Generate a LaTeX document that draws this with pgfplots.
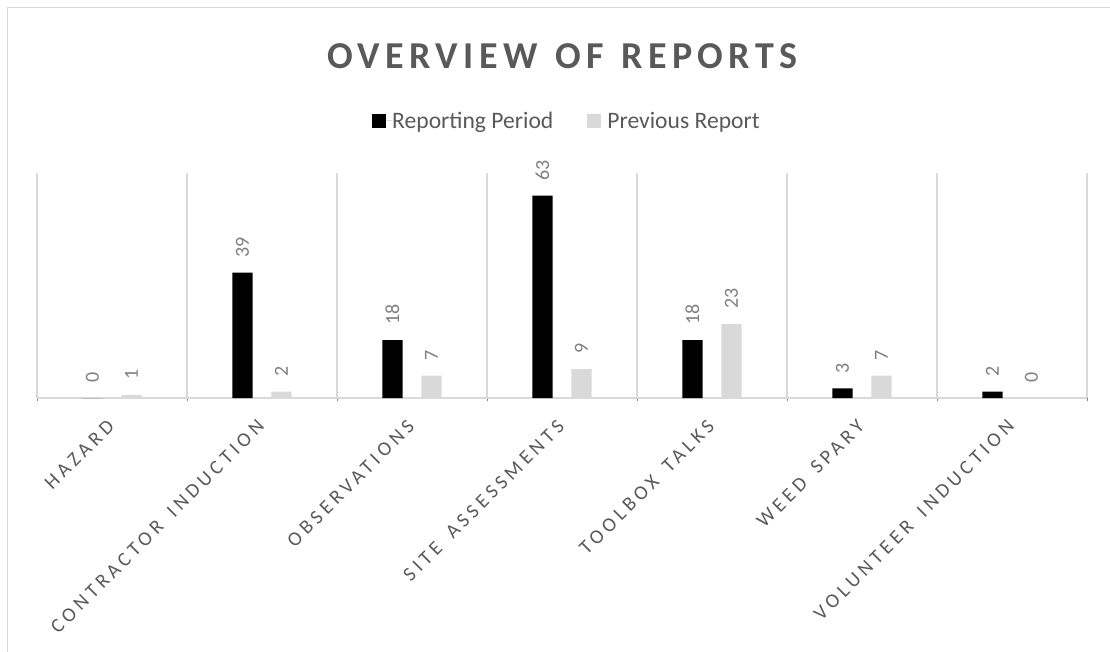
\documentclass[border=0pt]{standalone}
\usepackage{pgfplots}
\pgfplotsset{compat=1.18}
\usepackage{fontspec}
\setmainfont{Carlito}
\newfontfamily\titlefont[LetterSpace=14]{Carlito}
\newfontfamily\tickfont[LetterSpace=21]{Carlito}
\definecolor{txtgray}{HTML}{595959}
\definecolor{lblgray}{HTML}{7F7F7F}
\definecolor{bargray}{HTML}{D9D9D9}
\definecolor{gridgray}{HTML}{D9D9D9}
\newcommand{\ws}{\hspace{5pt}}
\begin{document}
\begin{tikzpicture}[x=1pt,y=1pt]
\useasboundingbox (0,0) rectangle (1110,651);
\draw[gridgray, line width=1.5pt] (7.5,-20) -- (7.5,643.5) -- (1120,643.5);
\node[anchor=base, text=txtgray, inner sep=0pt, font=\titlefont\fontsize{38}{46}\selectfont\bfseries] at (562.4,582.7) {OVERVIEW\hspace{4pt} OF\hspace{4pt} REPORTS};
\begin{axis}[
  at={(37pt,253pt)}, anchor=south west,
  width=1050pt, height=225pt, scale only axis,
  ymin=0, ymax=70, xmin=-0.5, xmax=6.5,
  ybar=18.7pt, bar width=20.3pt,
  axis y line=none, axis x line*=bottom,
  x axis line style={gridgray, line width=1.3pt, -},
  major tick length=0pt,
  xtick={0,...,6},
  xticklabels={HAZARD, CONTRACTOR\ws{} INDUCTION, OBSERVATIONS, SITE\ws{} ASSESSMENTS, TOOLBOX\ws{} TALKS, WEED\ws{} SPARY, VOLUNTEER\ws{} INDUCTION},
  minor xtick={-0.5,0.5,...,6.5},
  xminorgrids=true,
  minor x grid style={gridgray, line width=1.3pt},
  xticklabel style={yshift=-25pt, xshift=-1pt, rotate=45, anchor=east, inner sep=0pt, text=txtgray, font=\tickfont\fontsize{20}{24}\selectfont},
  /pgf/number format/assume math mode=true,
  nodes near coords,
  every node near coord/.append style={rotate=90, anchor=west, inner xsep=15pt, inner ysep=0pt, text=lblgray, font=\fontsize{20}{24}\selectfont},
  legend style={at={(0.5038,1.232)}, anchor=center, draw=none, fill=none, legend columns=2,
    font=\fontsize{23.6}{28}\selectfont, text=txtgray, nodes={inner sep=0pt},
    /tikz/every even column/.append style={column sep=34pt}},
  clip=false,
]
\addplot[fill=black, draw=none, legend image code/.code={\fill[black] (0pt,-7.2pt) rectangle (14pt,6.8pt); \path (14pt,0pt) -- (20pt,0pt);}]
  coordinates {(0,0) (1,39) (2,18) (3,63) (4,18) (5,3) (6,2)};
\addlegendentry{Reporting Period}
\addplot[fill=bargray, draw=none, legend image code/.code={\fill[bargray] (0pt,-7.2pt) rectangle (14pt,6.8pt); \path (14pt,0pt) -- (20pt,0pt);}]
  coordinates {(0,1) (1,2) (2,7) (3,9) (4,23) (5,7) (6,0)};
\addlegendentry{Previous Report}
\end{axis}
\end{tikzpicture}
\end{document}
